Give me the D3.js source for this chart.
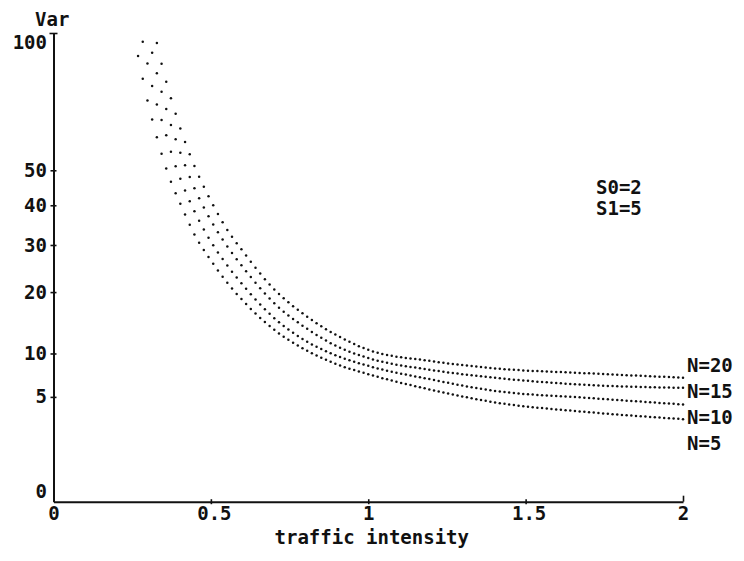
<!DOCTYPE html>
<html>
<head>
<meta charset="utf-8">
<script src="https://cdn.jsdelivr.net/npm/d3@7"></script>
<style>
  body { margin: 0; background: #fff; }
  text { font-family: "DejaVu Sans Mono", monospace; font-weight: bold; fill: #111; }
</style>
</head>
<body>
<svg id="chart"></svg>
<script>
// traffic intensity values the curves were read at
const intensity = [0.26, 0.28, 0.30, 0.32, 0.34, 0.36, 0.38, 0.40, 0.45, 0.50, 0.55, 0.60, 0.70, 0.80, 0.90, 1.0, 1.2, 1.4, 1.7, 2.0];

// Var for each N (null = off the top of the plot)
const varN20 = [null, null, null, 101, 89.0, 79.5, 71.5, 64.4, 50.8, 41.2, 33.9, 28.7, 20.6, 15.8, 12.6, 10.5, 9.0, 8.1, 7.5, 7.0];
const varN15 = [null, null, 100, 88.0, 78.0, 69.5, 62.3, 56.3, 44.3, 36.0, 29.9, 25.2, 18.0, 13.8, 11.0, 9.4, 7.9, 7.0, 6.2, 5.9];
const varN10 = [null, 98.5, 86.5, 75.3, 67.5, 60.5, 53.5, 48.2, 38.0, 30.8, 25.6, 21.5, 15.4, 11.8, 9.7, 8.4, 6.8, 5.6, 4.9, 4.3];
const varN5  = [96, 83.5, 72.5, 63.8, 56.2, 50.0, 45.0, 41.0, 32.2, 26.5, 22.0, 18.5, 13.5, 10.5, 8.6, 7.4, 5.7, 4.5, 3.65, 3.1];

const seriesNames = ["N=20", "N=15", "N=10", "N=5"];
const seriesValues = [varN20, varN15, varN10, varN5];

const xTicks = [0, 0.5, 1, 1.5, 2];
const yTicks = [0, 5, 10, 20, 30, 40, 50, 100];
const params = ["S0=2", "S1=5"];

const width = 744;
const height = 561;
const fontSize = "19px";

const svg = d3.select("#chart")
    .attr("width", width)
    .attr("height", height);

// x is linear, Var axis is a square-root scale
const x = d3.scaleLinear().domain([0, 2]).range([53.5, 683]);
const y = d3.scaleSqrt().domain([0, 100]).range([501.7, 33]);

// curves, drawn as dotted plotter points
const line = d3.line()
    .defined(d => d.v != null)
    .x(d => x(d.t))
    .y(d => y(d.v))
    .curve(d3.curveMonotoneX);

const dotStep = 2 / 134;  // spacing of plotted points in traffic intensity
const dotGrid = d3.range(0, 135).map(k => x(k * dotStep));

seriesValues.forEach((vals, i) => {
  const pts = intensity.map((t, j) => ({ t: t, v: vals[j] })).filter(d => d.v != null);
  const path = svg.append("path")
      .attr("d", line(pts))
      .attr("fill", "none")
      .attr("stroke", "none");

  const node = path.node();
  const L = node.getTotalLength();
  const samples = d3.range(0, L, 0.4).map(l => node.getPointAtLength(l));
  samples.push(node.getPointAtLength(L));

  const dots = [];
  let j = 0;
  dotGrid.forEach(px => {
    if (px < samples[0].x || px > samples[samples.length - 1].x) return;
    while (j < samples.length - 2 && samples[j + 1].x < px) j++;
    const a = samples[j], b = samples[j + 1];
    const f = b.x === a.x ? 0 : (px - a.x) / (b.x - a.x);
    const py = a.y + f * (b.y - a.y);
    if (py >= y(100) - 0.5) dots.push([px, py]);
  });

  svg.append("g")
      .attr("class", "series")
    .selectAll("circle")
    .data(dots)
    .enter().append("circle")
      .attr("cx", d => d[0])
      .attr("cy", d => d[1])
      .attr("r", 1.25)
      .attr("fill", "#111");
});

// y axis
const yAxis = svg.append("g")
    .attr("transform", `translate(${x(0)},0)`)
    .call(d3.axisLeft(y).tickValues(yTicks).tickSize(0).tickPadding(6.5).tickFormat(d => String(d)));

yAxis.select(".domain").attr("stroke", "#111").attr("stroke-width", 2);
yAxis.selectAll(".tick text")
    .style("font-size", fontSize)
    .attr("dy", d => d === 0 ? "-0.22em" : d === 100 ? "0.8em" : "0.32em");
yAxis.selectAll(".tick")
    .filter(d => d !== 0)
    .append("line")
    .attr("x1", d => d === 100 ? -4 : -3)
    .attr("x2", d => d === 100 ? 4 : 3)
    .attr("stroke", "#111")
    .attr("stroke-width", 1.6);

// x axis
const xAxis = svg.append("g")
    .attr("transform", `translate(0,${y(0)})`)
    .call(d3.axisBottom(x).tickValues(xTicks).tickSize(0).tickPadding(5).tickFormat(d => String(d)));

xAxis.select(".domain").attr("stroke", "#111").attr("stroke-width", 2);
xAxis.selectAll(".tick text")
    .style("font-size", fontSize)
    .attr("dx", d => Number.isInteger(d) ? 0 : 3);
xAxis.selectAll(".tick")
    .filter(d => d !== 0)
    .append("line")
    .attr("y1", d => d === 2 ? -6 : -2.5)
    .attr("y2", d => d === 2 ? 0 : 2.5)
    .attr("stroke", "#111")
    .attr("stroke-width", 1.6);

// axis titles
svg.append("text")
    .attr("x", 35)
    .attr("y", 26)
    .style("font-size", fontSize)
    .text("Var");

svg.append("text")
    .attr("x", (x(0) + x(2)) / 2 + 3.5)
    .attr("y", 544)
    .attr("text-anchor", "middle")
    .style("font-size", fontSize)
    .text("traffic intensity");

// parameter note
svg.selectAll(".param")
    .data(params)
  .enter().append("text")
    .attr("class", "param")
    .attr("x", 596)
    .attr("y", (d, i) => 194 + i * 21)
    .style("font-size", fontSize)
    .text(d => d);

// curve labels, stacked down from the top curve's end
const topEnd = y(varN20[varN20.length - 1]);
svg.selectAll(".nlabel")
    .data(seriesNames)
  .enter().append("text")
    .attr("class", "nlabel")
    .attr("x", x(2) + 4)
    .attr("y", (d, i) => topEnd - 12.5 + i * 26)
    .attr("dy", "0.35em")
    .style("font-size", fontSize)
    .text(d => d);
</script>
</body>
</html>
